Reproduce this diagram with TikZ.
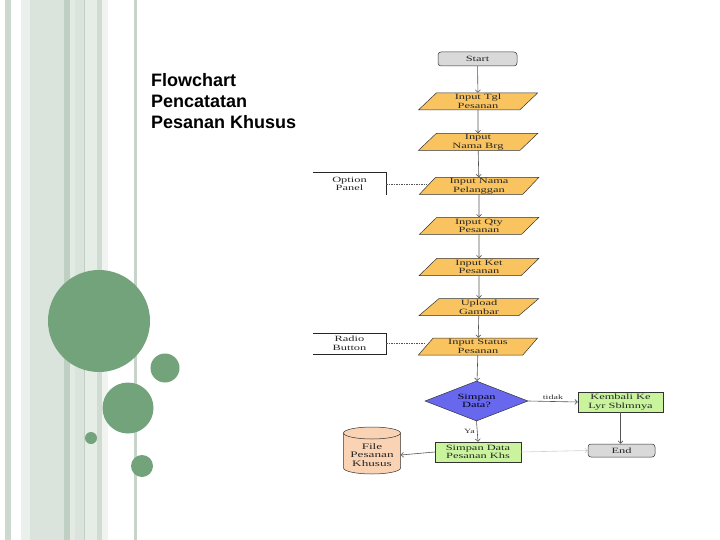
\documentclass[tikz,border=0pt]{standalone}
\usepackage{fontspec}
\setmainfont{Liberation Serif}
\newfontfamily\titlefont{Liberation Sans}
\newfontfamily\fcfont[FakeStretch=1.55]{Liberation Serif}
\usetikzlibrary{shapes.geometric,arrows.meta}
\definecolor{stripeA}{HTML}{CDD8CF}
\definecolor{stripeB}{HTML}{EAF0EB}
\definecolor{stripeC}{HTML}{DAE4DC}
\definecolor{stripeD}{HTML}{BFD0C3}
\definecolor{stripeE}{HTML}{E2EAE3}
\definecolor{stripeF}{HTML}{E6EDE6}
\definecolor{stripeG}{HTML}{D0DBD2}
\definecolor{stripeH}{HTML}{F0F3F0}
\definecolor{stripeI}{HTML}{C8D3CA}
\definecolor{circ}{HTML}{72A37A}
\definecolor{iofill}{HTML}{F9C35F}
\definecolor{decfill}{HTML}{6868EE}
\definecolor{procfill}{HTML}{C9F49D}
\definecolor{dbfill}{HTML}{FAD3B4}
\definecolor{termfill}{HTML}{D9D9D9}
\definecolor{fcline}{HTML}{555555}
\tikzset{
  fctext/.style={font=\fcfont\fontsize{8bp}{8.6bp}\selectfont, text=black!85, align=center, inner sep=0pt},
  io/.style={fctext, trapezium, trapezium left angle=55, trapezium right angle=125,
    trapezium stretches=true, minimum width=120bp, minimum height=17bp, draw=black!80, line width=0.5bp, fill=iofill},
  term/.style={fctext, rectangle, rounded corners=3bp, draw=black!80, line width=0.5bp, fill=termfill},
  proc/.style={fctext, rectangle, draw=black!80, line width=0.5bp, fill=procfill, minimum width=86bp, minimum height=20bp},
  decis/.style={fctext, diamond, aspect=2.5, draw=black!80, line width=0.5bp, fill=decfill, minimum width=103bp, minimum height=40bp, text=black!90!blue},
  arr/.style={draw=fcline, line width=0.6bp, -{Straight Barb[length=2.5bp,width=5bp]}},
  dashline/.style={draw=fcline, line width=0.5bp, dash pattern=on 1.5bp off 1bp},
  lbl/.style={font=\fcfont\fontsize{6.5bp}{7bp}\selectfont, text=black!80, inner sep=0pt},
  titletext/.style={font=\titlefont\bfseries\fontsize{18bp}{20bp}\selectfont, anchor=base west, inner sep=0pt}
}
\begin{document}
\begin{tikzpicture}[x=1bp,y=-1bp]
\useasboundingbox (0,0) rectangle (720,540);
\fill[white] (0,0) rectangle (720,540);
% stripes
\fill[stripeA] (5,0) rectangle (11,540);
\fill[stripeB] (21,0) rectangle (30,540);
\fill[stripeC] (30,0) rectangle (64,540);
\fill[stripeD] (64,0) rectangle (70,540);
\fill[stripeE] (70,0) rectangle (75,540);
\fill[stripeC] (75,0) rectangle (84,540);
\fill[stripeD] (84,0) rectangle (85,540);
\fill[stripeF] (85,0) rectangle (97,540);
\fill[stripeG] (97,0) rectangle (102,540);
\fill[stripeH] (102,0) rectangle (108,540);
\fill[stripeI] (134,0) rectangle (137,540);
% circles
\fill[circ] (99,321) circle[radius=51bp];
\fill[circ] (165,368) circle[radius=14.5bp];
\fill[circ] (128,408) circle[radius=25.5bp];
\fill[circ] (91,438) circle[radius=6bp];
\fill[circ] (142,466) circle[radius=11bp];
% title
\node[titletext] (title1) at (151,87) {Flowchart};
\node[titletext] (title2) at (151,108) {Pencatatan};
\node[titletext] (title3) at (151,128.5) {Pesanan Khusus};
% flowchart nodes
\node[term, minimum width=79bp, minimum height=14bp] (start) at (477.5,59) {Start};
\node[io] (tgl) at (478,101.5) {Input Tgl\\Pesanan};
\node[io] (brg) at (478,142) {Input\\Nama Brg};
\node[io] (plg) at (479,186) {Input Nama\\Pelanggan};
\node[io] (qty) at (479,226) {Input Qty\\Pesanan};
\node[io] (ket) at (479,267) {Input Ket\\Pesanan};
\node[io] (upl) at (479,307) {Upload\\Gambar};
\node[io] (sts) at (478,346.5) {Input Status\\Pesanan};
\node[decis] (dec) at (476.5,401) {Simpan\\Data?};
\node[proc, minimum width=85bp] (kmb) at (620.5,402) {Kembali Ke\\Lyr Sblmnya};
\node[term, minimum width=67bp, minimum height=13bp] (endn) at (621.5,450.5) {End};
\node[proc] (smp) at (478,452) {Simpan Data\\Pesanan Khs};
% cylinder
\fill[dbfill] (343.5,433) -- (343.5,468) arc[start angle=180, end angle=360, x radius=28.5bp, y radius=6bp] -- (400.5,433) -- cycle;
\draw[black!80, line width=0.5bp] (343.5,433) -- (343.5,468) arc[start angle=180, end angle=360, x radius=28.5bp, y radius=6bp] -- (400.5,433);
\draw[black!80, line width=0.5bp, fill=dbfill] (372,433) ellipse[x radius=28.5bp, y radius=6bp];
\node[fctext, font=\fcfont\fontsize{8.5bp}{8.8bp}\selectfont, minimum width=57bp] (file) at (372,455) {File\\Pesanan\\Khusus};
% side boxes
\node[fctext, minimum width=73bp, minimum height=22bp] (opt) at (349.5,184) {Option\\Panel};
\draw[black!85, line width=0.6bp] (opt.north west) -- (opt.north east) -- (opt.south east);
\node[fctext, minimum width=73bp, minimum height=21bp] (rad) at (349.5,343.5) {Radio\\Button};
\draw[black!85, line width=0.6bp] (rad.north west) -- (rad.north east) -- (rad.south east) -- (rad.south west);
% connectors
\draw[arr] (start) -- (tgl);
\draw[arr] (tgl) -- (brg);
\draw[arr] (brg) -- (plg);
\draw[arr] (plg) -- (qty);
\draw[arr] (qty) -- (ket);
\draw[arr] (ket) -- (upl);
\draw[arr] (upl) -- (sts);
\draw[arr] (sts) -- (dec);
\draw[arr] (dec.east) -- (kmb.west) node[lbl, midway, above=2bp] (ltidak) {tidak};
\draw[arr] (kmb.south) -- (kmb.south |- endn.north);
\draw[arr] (dec.south) -- (smp.north) node[lbl, midway, left=2bp] (lya) {Ya};
\draw[arr] (smp.west) -- (file.east);
\draw[arr, draw=black!18] (smp.east) -- (endn.west);
\draw[dashline] (opt.east) -- (opt.east -| plg.west);
\draw[dashline] (rad.east) -- (rad.east -| sts.west);
\end{tikzpicture}
\end{document}
